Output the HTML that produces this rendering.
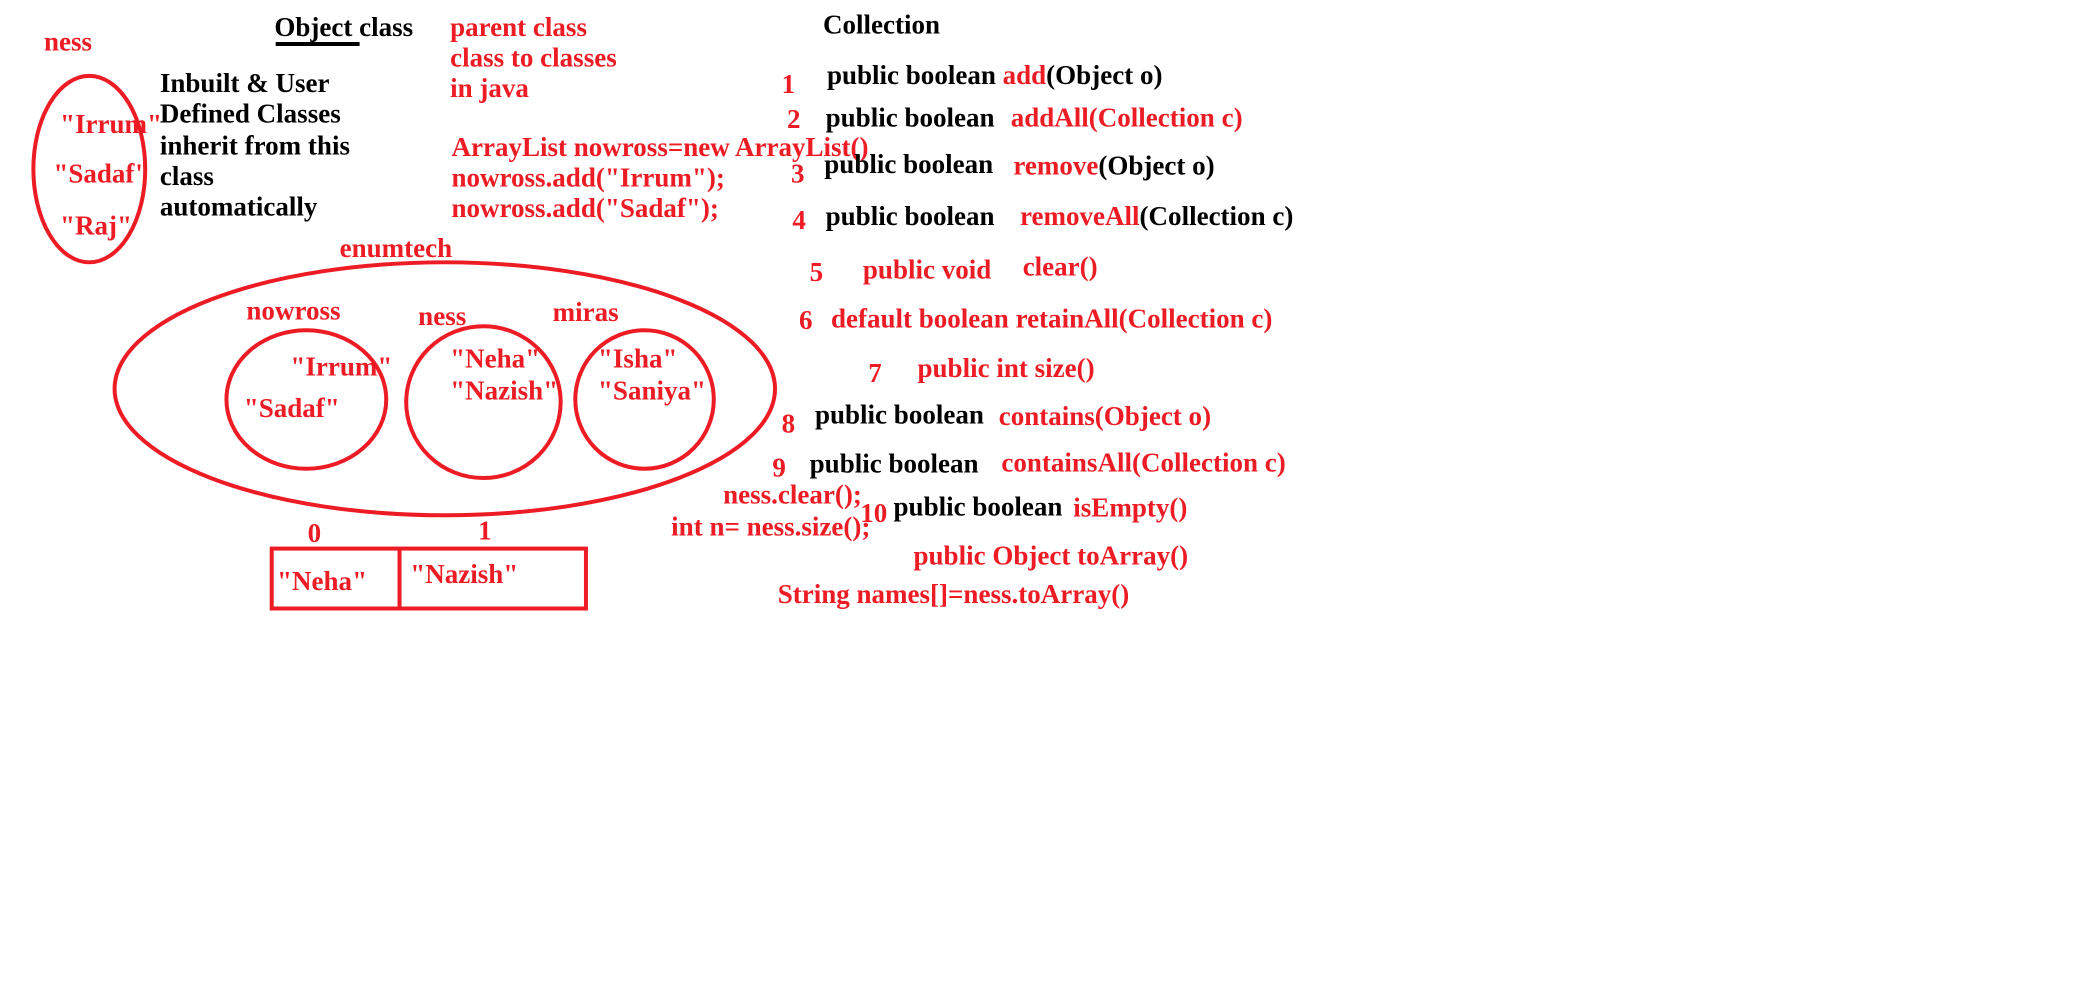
<!DOCTYPE html>
<html><head><meta charset="utf-8"><style>
html,body{margin:0;padding:0;background:#fff;}
svg{display:block;}
text{font-family:"Liberation Serif",serif;font-weight:bold;font-size:20.3px;}
.r{fill:#ed1c24;} .k{fill:#000;}
</style></head><body>
<svg width="2088" height="984" viewBox="0 0 1568 739" xmlns="http://www.w3.org/2000/svg">
<rect width="1568" height="739" fill="#fff"/>
<g fill="none" stroke="#ed1c24" stroke-width="3">
<ellipse cx="67" cy="127" rx="42" ry="70"/>
<ellipse cx="334" cy="292" rx="248" ry="95"/>
<ellipse cx="230" cy="300" rx="60" ry="52"/>
<ellipse cx="363" cy="302" rx="58" ry="57"/>
<ellipse cx="484" cy="300" rx="52" ry="52"/>
<rect x="204" y="412" width="236" height="45"/>
<line x1="300" y1="412" x2="300" y2="457"/>
</g>
<line x1="207" y1="33" x2="270" y2="33" stroke="#000" stroke-width="3"/>
<text class="r" x="33" y="38">ness</text>
<text class="k" x="206" y="27">Object class</text>
<text class="r" x="338" y="27">parent class</text>
<text class="r" x="338" y="50">class to classes</text>
<text class="r" x="338" y="73">in java</text>
<text class="k" x="120" y="69">Inbuilt &amp; User</text>
<text class="k" x="120" y="92">Defined Classes</text>
<text class="k" x="120" y="116">inherit from this</text>
<text class="k" x="120" y="139">class</text>
<text class="k" x="120" y="162">automatically</text>
<text class="r" x="45" y="100">"Irrum"</text>
<text class="r" x="40" y="137">"Sadaf"</text>
<text class="r" x="45" y="176">"Raj"</text>
<text class="r" x="339" y="117">ArrayList nowross=new ArrayList()</text>
<text class="r" x="339" y="140">nowross.add("Irrum");</text>
<text class="r" x="339" y="163">nowross.add("Sadaf");</text>
<text class="k" x="618" y="25">Collection</text>
<text class="r" x="255" y="193">enumtech</text>
<text class="r" x="185" y="240">nowross</text>
<text class="r" x="314" y="244">ness</text>
<text class="r" x="415" y="241">miras</text>
<text class="r" x="218" y="282">"Irrum"</text>
<text class="r" x="183" y="313">"Sadaf"</text>
<text class="r" x="338" y="276">"Neha"</text>
<text class="r" x="338" y="300">"Nazish"</text>
<text class="r" x="449" y="276">"Isha"</text>
<text class="r" x="449" y="300">"Saniya"</text>
<text class="r" x="231" y="407">0</text>
<text class="r" x="359" y="405">1</text>
<text class="r" x="208" y="443">"Neha"</text>
<text class="r" x="308" y="438">"Nazish"</text>
<text class="r" x="543" y="378">ness.clear();</text>
<text class="r" x="504" y="402">int n= ness.size();</text>
<text class="r" x="587" y="70">1</text>
<text x="621" y="63"><tspan class="k">public boolean </tspan><tspan class="r">add</tspan><tspan class="k">(Object o)</tspan></text>
<text class="r" x="591" y="96">2</text>
<text class="k" x="620" y="95">public boolean</text>
<text class="r" x="759" y="95">addAll(Collection c)</text>
<text class="r" x="594" y="137">3</text>
<text class="k" x="619" y="130">public boolean</text>
<text x="761" y="131"><tspan class="r">remove</tspan><tspan class="k">(Object o)</tspan></text>
<text class="r" x="595" y="172">4</text>
<text class="k" x="620" y="169">public boolean</text>
<text x="766" y="169"><tspan class="r">removeAll</tspan><tspan class="k">(Collection c)</tspan></text>
<text class="r" x="608" y="211">5</text>
<text class="r" x="648" y="209">public void</text>
<text class="r" x="768" y="207">clear()</text>
<text class="r" x="600" y="247">6</text>
<text class="r" x="624" y="246">default boolean retainAll(Collection c)</text>
<text class="r" x="652" y="287">7</text>
<text class="r" x="689" y="283">public int size()</text>
<text class="r" x="587" y="325">8</text>
<text class="k" x="612" y="318">public boolean</text>
<text class="r" x="750" y="319">contains(Object o)</text>
<text class="r" x="580" y="358">9</text>
<text class="k" x="608" y="355">public boolean</text>
<text class="r" x="752" y="354">containsAll(Collection c)</text>
<text class="r" x="646" y="392">10</text>
<text class="k" x="671" y="387">public boolean</text>
<text class="r" x="806" y="388">isEmpty()</text>
<text class="r" x="686" y="424">public Object toArray()</text>
<text class="r" x="584" y="453">String names[]=ness.toArray()</text>
</svg>
</body></html>
